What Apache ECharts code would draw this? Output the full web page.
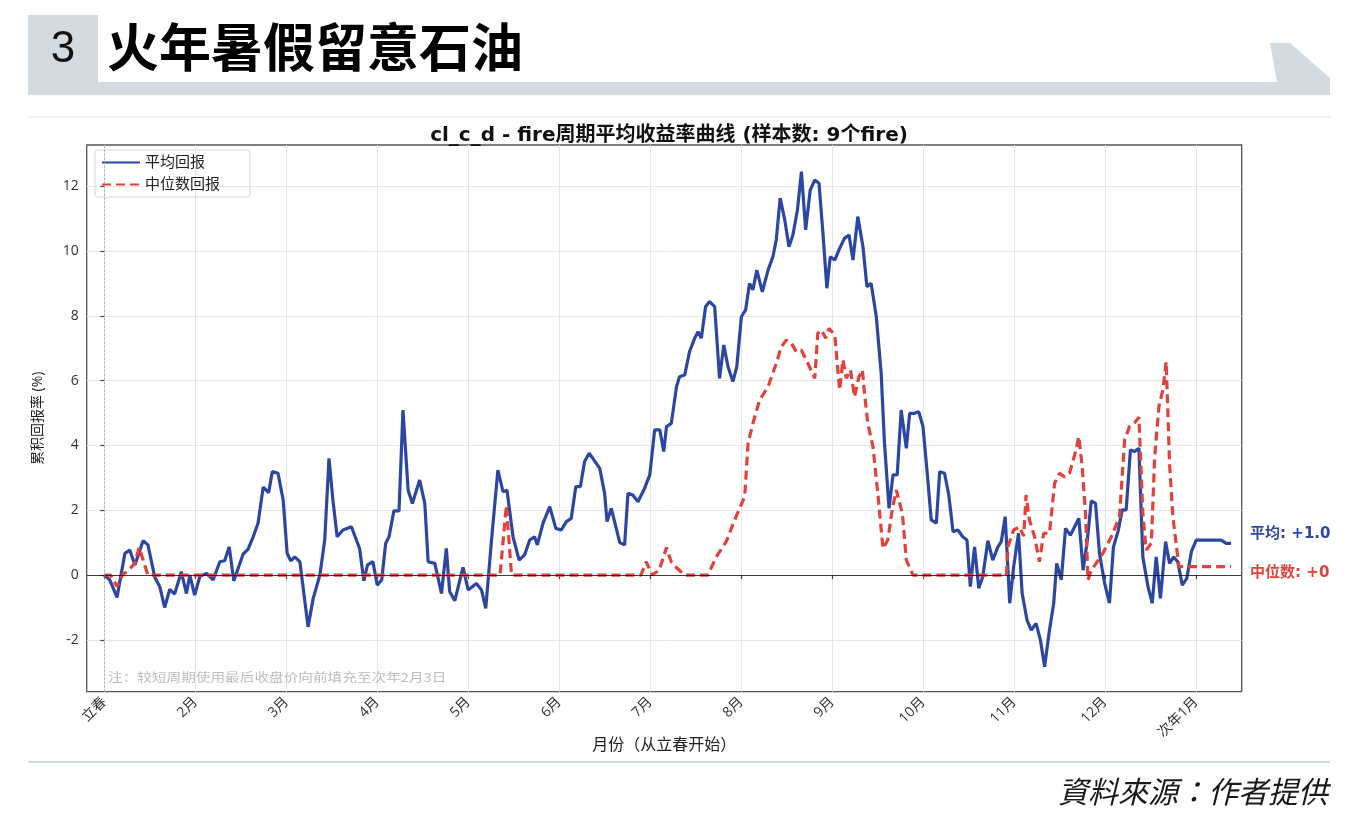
<!DOCTYPE html>
<html>
<head>
<meta charset="utf-8">
<script src="https://cdn.jsdelivr.net/npm/echarts@6/dist/echarts.min.js"></script>
<style>
  html, body { margin: 0; padding: 0; background: #fff; }
  #chart { width: 1358px; height: 832px; }
</style>
</head>
<body>
<div id="chart"></div>
<script>
// x = 从立春起的天数（每个月刻度按 30 计）
const monthTicks = [0, 30, 60, 90, 120, 150, 180, 210, 240, 270, 300, 330, 360];
const monthLabels = ["立春", "2月", "3月", "4月", "5月", "6月", "7月", "8月", "9月", "10月", "11月", "12月", "次年1月"];
const yTicks = [-2, 0, 2, 4, 6, 8, 10, 12];

// 平均回报 [day, %]
const avgReturn = [
  [0,0],[1.8,-0.15],[4.2,-0.69],[6.8,0.67],[8.4,0.77],[10.1,0.31],[12.8,1.06],[14.4,0.93],[16.6,-0.05],[18.3,-0.36],
  [19.9,-1.0],[21.6,-0.44],[23.2,-0.59],[25.4,0.1],[27.1,-0.57],[28.2,0],[29.8,-0.62],[31.5,-0.05],[33.7,0.05],[35.9,-0.15],
  [38.1,0.41],[39.7,0.44],[41.2,0.87],[42.7,-0.18],[45.8,0.65],[47.4,0.79],[49.1,1.18],[50.7,1.6],[52.4,2.71],[54.2,2.54],
  [55.4,3.19],[57.3,3.14],[59,2.31],[60.3,0.67],[61.5,0.44],[62.8,0.56],[64.5,0.41],[67.2,-1.6],[68.9,-0.72],[71.1,0],
  [72.7,1.08],[74.1,3.6],[75.4,2.31],[76.8,1.18],[78.7,1.39],[81.5,1.49],[84.2,0.82],[85.6,-0.18],[86.8,0.31],[88.6,0.41],
  [90,-0.31],[91.5,-0.15],[92.8,0.98],[93.9,1.18],[95.5,1.98],[97.2,1.98],[98.5,5.09],[100.2,2.62],[101.6,2.21],[104,2.93],
  [105.7,2.21],[106.8,0.41],[109,0.36],[111.2,-0.57],[112.8,0.82],[113.9,-0.51],[115.6,-0.79],[118.3,0.24],[120,-0.46],[122.7,-0.26],
  [124.4,-0.46],[125.8,-1.03],[127.7,1.08],[129.8,3.24],[131.5,2.57],[132.8,2.62],[134.8,1.18],[136.8,0.46],[138.6,0.62],[140.3,1.08],
  [141.9,1.18],[142.8,0.93],[144.7,1.6],[146.9,2.11],[148.9,1.44],[150.7,1.39],[152.4,1.65],[154,1.75],[155.5,2.73],[157,2.73],
  [158.4,3.5],[159.9,3.76],[163.4,3.29],[165,2.52],[165.8,1.65],[167.2,2.06],[170,1.0],[171.6,0.93],[172.7,2.52],[174.3,2.47],
  [176,2.26],[178.2,2.68],[179.9,3.09],[181.5,4.48],[183.2,4.48],[184.5,3.81],[185.4,4.58],[187,4.68],[188.7,5.81],[189.7,6.12],
  [191.4,6.17],[193,6.89],[194.7,7.31],[195.8,7.51],[196.9,7.31],[198.3,8.28],[199.6,8.44],[201.3,8.28],[202.9,6.07],[204.3,7.1],
  [205.7,6.43],[207.3,5.97],[208.6,6.43],[210.1,7.97],[211.5,8.18],[212.8,9.0],[213.9,8.8],[215.2,9.41],[217,8.74],[218.9,9.41],
  [220.5,9.82],[221.6,10.34],[222.9,11.63],[224.4,10.96],[225.8,10.13],[227.1,10.49],[228.6,11.27],[229.9,12.45],[231.3,10.65],[232.8,11.88],
  [234.3,12.19],[235.7,12.09],[237,10.55],[238.3,8.85],[239.4,9.82],[240.9,9.72],[242.5,10.08],[244.1,10.39],[245.6,10.49],[246.9,9.72],
  [248.5,11.06],[250.2,10.13],[251.5,8.9],[252.9,9.0],[254.6,7.97],[256.2,6.23],[257.3,4.06],[258.8,2.06],[260.1,3.09],[261.5,3.09],
  [262.8,5.09],[264.5,3.91],[265.6,4.99],[267.2,4.99],[268.6,5.04],[270,4.58],[271.6,2.93],[272.7,1.7],[274.4,1.6],[275.5,3.19],
  [277.1,3.14],[278.5,2.47],[279.9,1.34],[281.5,1.39],[283.1,1.18],[284.5,1.08],[285.6,-0.36],[287,0.87],[288.4,-0.41],[289.7,-0.05],
  [291.4,1.06],[293,0.46],[294.7,0.87],[295.8,1.03],[297.1,1.8],[298.6,-0.87],[299.9,0.26],[301.5,1.29],[302.7,-0.57],[304.3,-1.39],
  [305.7,-1.7],[307.3,-1.49],[308.7,-2.0],[310.1,-2.83],[311.7,-1.7],[313.1,-0.87],[314.1,0.36],[315.6,-0.15],[317,1.44],[318.6,1.23],
  [320,1.49],[321.4,1.75],[322.8,0.15],[324.2,1.08],[325.5,2.29],[326.9,2.21],[328.2,0.67],[329.9,-0.26],[331.5,-0.87],[332.8,0.87],
  [334.3,1.34],[335.7,2.01],[337,2.01],[338.4,3.86],[339.8,3.81],[341.2,3.91],[342.5,0.56],[344.2,-0.36],[345.6,-0.87],[346.9,0.56],
  [348.3,-0.72],[350,1.03],[351.3,0.36],[352.7,0.56],[354,0.41],[355.5,-0.31],[357,-0.1],[358.5,0.72],[360.1,1.08],[368.3,1.08],
  [370,0.98],[371.6,0.98]
];

// 中位数回报 [day, %]
const medianReturn = [
  [0,0],[2,0],[4.2,-0.35],[6,0],[8.5,0.2],[10,0.35],[11.5,0.85],[13,0.4],[14.4,0],[130.5,0],
  [132.6,2.15],[134.3,0],[177,0],[178.7,0.41],[180.7,0],[183,0.15],[185.4,0.85],[187,0.4],[189,0.2],[191.4,0],
  [199.1,0],[201.8,0.56],[205.1,1.03],[207.9,1.7],[211.2,2.42],[212.3,4.06],[213.9,4.68],[216.1,5.4],[218.9,5.81],[221.6,6.53],
  [223.3,7.05],[224.9,7.25],[226.6,7.15],[228.2,6.89],[229.9,6.94],[231.5,6.64],[234.3,6.07],[235.3,7.46],[236.5,7.56],[237.9,7.31],
  [239,7.61],[240.9,7.41],[242.5,5.71],[243.6,6.64],[244.7,6.07],[246.1,6.33],[247.4,5.5],[248.9,6.12],[250,6.33],[250.7,5.61],
  [251.8,4.68],[253.5,3.96],[255.1,2.52],[256.8,0.82],[258.4,1.08],[259.9,2.06],[261.2,2.62],[263.2,1.9],[264.5,0.46],[266.7,0],
  [297.5,0],[298,0.87],[299.9,1.39],[301.8,1.49],[303.2,1.2],[304,2.47],[305.1,1.7],[306.8,1.18],[308.4,0.41],[309.8,1.29],
  [311.7,1.29],[313.4,2.83],[315,3.14],[316.7,3.03],[318.3,3.14],[320,3.7],[321.4,4.27],[322.5,3.34],[323.6,1.9],[324.4,-0.15],
  [325.5,0.15],[327.1,0.36],[329.3,0.67],[332.1,1.18],[334.8,1.8],[336.5,4.17],[338.1,4.58],[339.8,4.7],[341.2,4.87],[342.5,1.9],
  [343.6,0.77],[345.3,0.98],[346.4,3.65],[347.8,5.2],[349.1,5.71],[350.2,6.58],[351.3,3.45],[352.4,1.8],[354.4,0.26],[371.6,0.26]
];

const avgEndText = "平均: +1.0";
const medianEndText = "中位数: +0.3";

const BLUE = "#2c47a3";
const RED = "#e2423a";
const GRAY_BAND = "#d4dbe0";
const FONT = "'Open Sans', 'Noto Sans CJK SC', sans-serif";
const WIDE_FONT = "'DejaVu Sans', 'Noto Sans CJK SC', sans-serif";

const chart = echarts.init(document.getElementById("chart"));

const option = {
  backgroundColor: "#fff",
  animation: false,
  textStyle: { fontFamily: FONT },
  title: {
    text: "cl_c_d - fire周期平均收益率曲线 (样本数: 9个fire)",
    left: 664,
    top: 121,
    textAlign: "center",
    textStyle: { fontSize: 20, fontWeight: "bold", color: "#111", fontFamily: WIDE_FONT }
  },
  legend: {
    left: 95,
    top: 150,
    orient: "vertical",
    itemWidth: 38,
    itemHeight: 12,
    itemGap: 7,
    padding: [5, 30, 5, 6],
    borderColor: "#d6d6d6",
    borderWidth: 1,
    borderRadius: 3,
    itemStyle: { opacity: 0 },
    textStyle: { fontSize: 15, color: "#222", fontFamily: FONT },
    data: ["平均回报", "中位数回报"]
  },
  grid: {
    left: 86.7,
    right: 116.3,
    top: 145,
    bottom: 140.3,
    show: true,
    borderColor: "#555",
    borderWidth: 1.3,
    containLabel: false
  },
  xAxis: {
    type: "value",
    min: -5.8,
    max: 375.1,
    name: "月份（从立春开始）",
    nameLocation: "middle",
    nameGap: 46,
    nameMoveOverlap: false,
    nameTextStyle: { fontSize: 16, color: "#222", fontFamily: FONT },
    axisLine: { show: false },
    axisTick: { show: true, customValues: monthTicks, length: 4, lineStyle: { color: "#444", width: 1.2 } },
    axisLabel: {
      customValues: monthTicks,
      rotate: 45,
      fontSize: 14,
      color: "#333",
      margin: 8,
      formatter: v => monthLabels[monthTicks.indexOf(Math.round(v))] || ""
    },
    splitLine: { show: true, lineStyle: { color: "#e6e6e6", width: 1 } }
  },
  yAxis: {
    type: "value",
    min: -3.6,
    max: 13.27,
    name: "累积回报率 (%)",
    nameLocation: "middle",
    nameGap: 42,
    nameTextStyle: { fontSize: 14, color: "#222", fontFamily: FONT },
    axisLine: { show: false },
    axisTick: { show: true, customValues: yTicks, length: 4, lineStyle: { color: "#444", width: 1.2 } },
    axisLabel: { customValues: yTicks, fontSize: 14, color: "#333", margin: 8 },
    splitLine: { show: true, lineStyle: { color: "#e6e6e6", width: 1 } }
  },
  series: [
    {
      name: "平均回报",
      type: "line",
      data: avgReturn,
      symbol: "none",
      z: 3,
      lineStyle: { color: BLUE, width: 3.2 },
      itemStyle: { color: BLUE },
      endLabel: {
        show: true,
        formatter: avgEndText,
        color: BLUE,
        fontSize: 15,
        fontWeight: "bold",
        offset: [11, -9],
        fontFamily: WIDE_FONT
      },
      markLine: {
        silent: true,
        symbol: "none",
        label: { show: false },
        data: [
          { yAxis: 0, lineStyle: { color: "#111", width: 0.8, type: "solid" } },
          { xAxis: 0, lineStyle: { color: "#999", width: 0.8, type: [2, 2] } }
        ]
      }
    },
    {
      name: "中位数回报",
      type: "line",
      data: medianReturn,
      symbol: "none",
      z: 4,
      lineStyle: { color: RED, width: 3.2, type: [9, 5] },
      itemStyle: { color: RED },
      endLabel: {
        show: true,
        formatter: medianEndText,
        color: RED,
        fontSize: 15,
        fontWeight: "bold",
        offset: [11, 6],
        fontFamily: WIDE_FONT
      }
    }
  ],
  graphic: [
    // 顶部标题栏
    { type: "rect", shape: { x: 28, y: 15, width: 70, height: 80 }, style: { fill: GRAY_BAND } },
    { type: "rect", shape: { x: 28, y: 82, width: 1302, height: 13 }, style: { fill: GRAY_BAND } },
    { type: "polygon", shape: { points: [[1270, 43], [1290, 43], [1330, 78], [1330, 95], [1278, 95], [1277, 82]] }, style: { fill: GRAY_BAND } },
    { type: "text", style: { x: 63, y: 50, text: "3", fill: "#111", font: "44px 'Liberation Sans', Arial, sans-serif", textAlign: "center", textVerticalAlign: "middle" } },
    { type: "text", style: { x: 107, y: 47, text: "火年暑假留意石油", fill: "#000", font: "bold 52px 'Noto Sans CJK TC', sans-serif", textVerticalAlign: "middle" } },
    // 分隔线
    { type: "rect", shape: { x: 28, y: 116, width: 1302, height: 2 }, style: { fill: "#eef1f3" } },
    { type: "rect", shape: { x: 28, y: 761, width: 1302, height: 2 }, style: { fill: "#d3dade" } },
    // 注释
    { type: "text", z: 10, x: 108, y: 677, scaleX: 1.22, style: { x: 0, y: 0, text: "注：较短周期使用最后收盘价向前填充至次年2月3日", fill: "#bdbdbd", font: "12px 'Noto Sans CJK SC', sans-serif", textVerticalAlign: "middle" } },
    // 资料来源
    { type: "text", style: { x: 1328, y: 792, text: "資料來源：作者提供", fill: "#1a1a1a", font: "italic 30px 'Noto Sans CJK TC', sans-serif", textAlign: "right", textVerticalAlign: "middle" } },
    // 右侧裁切
    { type: "rect", z: 100, shape: { x: 1330, y: 100, width: 28, height: 660 }, style: { fill: "#fff" } }
  ]
};

chart.setOption(option);
window.addEventListener("resize", () => chart.resize());
</script>
</body>
</html>
